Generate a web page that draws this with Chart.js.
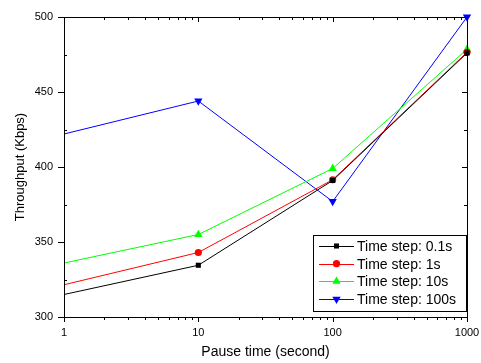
<!DOCTYPE html>
<html>
<head>
<meta charset="utf-8">
<script src="https://cdn.jsdelivr.net/npm/chart.js@4.4.0/dist/chart.umd.min.js"></script>
<style>
  html, body { margin: 0; padding: 0; background: #fff; }
  #wrap { width: 481px; height: 363px; }
</style>
</head>
<body>
<div id="wrap"><canvas id="chart" width="481" height="363"></canvas></div>
<script>
// pause times (x) and throughput per time step
const pauseTimes = [1, 10, 100, 1000];
const step01 = [315, 334.5, 391, 476];
const step1 = [321.5, 343, 391.5, 476.5];
const step10 = [336, 355, 399, 478.5];
const step100 = [422, 444, 377, 500];
const seriesNames = ["Time step: 0.1s", "Time step: 1s", "Time step: 10s", "Time step: 100s"];
const xTickLabels = [1, 10, 100, 1000];
const yTickLabels = [300, 350, 400, 450, 500];

const FONT = "Arial, 'Liberation Sans', sans-serif";

function toPoints(ys) {
  return pauseTimes.map((x, i) => ({ x: x, y: ys[i] }));
}

function makeSet(label, ys, color, style, r, rot) {
  return {
    label: label,
    data: toPoints(ys),
    borderColor: color,
    backgroundColor: color,
    borderWidth: 1,
    pointStyle: style,
    pointRadius: [0, r, r, r],
    pointHoverRadius: [0, r, r, r],
    pointBorderWidth: 0,
    pointRotation: rot,
    tension: 0,
    clip: false,
  };
}

const datasets = [
  makeSet(seriesNames[0], step01, "#000000", "rect", 3.6, 0),
  makeSet(seriesNames[1], step1, "#ff0000", "circle", 3.6, 0),
  makeSet(seriesNames[2], step10, "#00ff00", "triangle", 4.8, 0),
  makeSet(seriesNames[3], step100, "#0000ff", "triangle", 4.8, 180), // pointing down
];

// frame, minor ticks, mirrored ticks and inside legend
const extras = {
  id: "extras",
  afterDraw(chart) {
    const ctx = chart.ctx;
    const a = chart.chartArea;
    const xs = chart.scales.x;
    const ys = chart.scales.y;
    ctx.save();
    ctx.strokeStyle = "#000";
    ctx.lineWidth = 1;
    ctx.strokeRect(a.left + 0.5, a.top + 0.5, a.right - a.left, a.bottom - a.top);

    ctx.beginPath();
    // x ticks: major and minor on bottom (outward) and top (inward)
    for (let d = 1; d <= 1000; d *= 10) {
      for (let m = 1; m <= 9; m++) {
        const v = d * m;
        if (v > 1000) break;
        const px = Math.round(xs.getPixelForValue(v)) + 0.5;
        const len = m === 1 ? 5 : 3;
        ctx.moveTo(px, a.bottom);
        ctx.lineTo(px, a.bottom + len);
        ctx.moveTo(px, a.top);
        ctx.lineTo(px, a.top + len);
      }
    }
    // y ticks: minor inward on left, all inward on right
    for (let v = 300; v <= 500; v += 25) {
      const py = Math.round(ys.getPixelForValue(v)) + 0.5;
      const major = v % 50 === 0;
      if (!major) {
        ctx.moveTo(a.left, py);
        ctx.lineTo(a.left + 3, py);
      }
      ctx.moveTo(a.right, py);
      ctx.lineTo(a.right - (major ? 5 : 3), py);
    }
    ctx.stroke();

    // legend box
    const bx = 313, by = 235, bw = 153, bh = 76;
    ctx.fillStyle = "#fff";
    ctx.fillRect(bx, by, bw, bh);
    ctx.strokeRect(bx + 0.5, by + 0.5, bw, bh);
    ctx.font = "14px " + FONT;
    ctx.textBaseline = "middle";
    chart.data.datasets.forEach((ds, i) => {
      const cy = by + 11 + i * 17.7;
      ctx.strokeStyle = ds.borderColor;
      ctx.beginPath();
      ctx.moveTo(bx + 6, Math.round(cy) + 0.5);
      ctx.lineTo(bx + 41, Math.round(cy) + 0.5);
      ctx.stroke();
      ctx.fillStyle = ds.backgroundColor;
      Chart.helpers.drawPoint(ctx, {
        pointStyle: ds.pointStyle,
        rotation: ds.pointRotation,
        radius: ds.pointRadius[1],
        borderWidth: 0,
      }, bx + 23.5, cy);
      ctx.fillStyle = "#000";
      ctx.fillText(ds.label, bx + 44, cy + 1);
    });
    ctx.restore();
  },
};

const ctx = document.getElementById("chart").getContext("2d");
new Chart(ctx, {
  type: "line",
  data: { datasets: datasets },
  options: {
    responsive: false,
    animation: false,
    layout: { padding: { top: 17, right: 14, left: 0, bottom: 0 } },
    plugins: { legend: { display: false }, tooltip: { enabled: false } },
    scales: {
      x: {
        type: "logarithmic",
        min: 1,
        max: 1000,
        afterBuildTicks: (s) => { s.ticks = xTickLabels.map((v) => ({ value: v })); },
        afterFit: (s) => {
          s.height = 46;
          s.paddingLeft = 0;
          s.paddingRight = 0;
        },
        ticks: {
          color: "#000",
          font: { family: FONT, size: 11 },
          padding: 9,
          maxRotation: 0,
          callback: (v) => String(v),
        },
        grid: { drawOnChartArea: false, drawTicks: false, tickLength: 6 },
        border: { display: false },
        title: {
          display: true,
          text: "Pause time (second)",
          color: "#000",
          font: { family: FONT, size: 14 },
          padding: { top: 4, bottom: 2 },
        },
      },
      y: {
        min: 300,
        max: 500,
        afterBuildTicks: (s) => { s.ticks = yTickLabels.map((v) => ({ value: v })); },
        afterFit: (s) => {
          s.width = 64;
          s.paddingTop = 0;
          s.paddingBottom = 0;
        },
        ticks: {
          color: "#000",
          font: { family: FONT, size: 11 },
          padding: 5,
        },
        grid: { drawOnChartArea: false, drawTicks: true, tickLength: 6, color: "#000" },
        border: { display: false },
        title: {
          display: true,
          text: "Throughput (Kbps)",
          color: "#000",
          font: { family: FONT, size: 13 },
          padding: { top: 13, bottom: 6 },
        },
      },
    },
  },
  plugins: [extras],
});
</script>
</body>
</html>
